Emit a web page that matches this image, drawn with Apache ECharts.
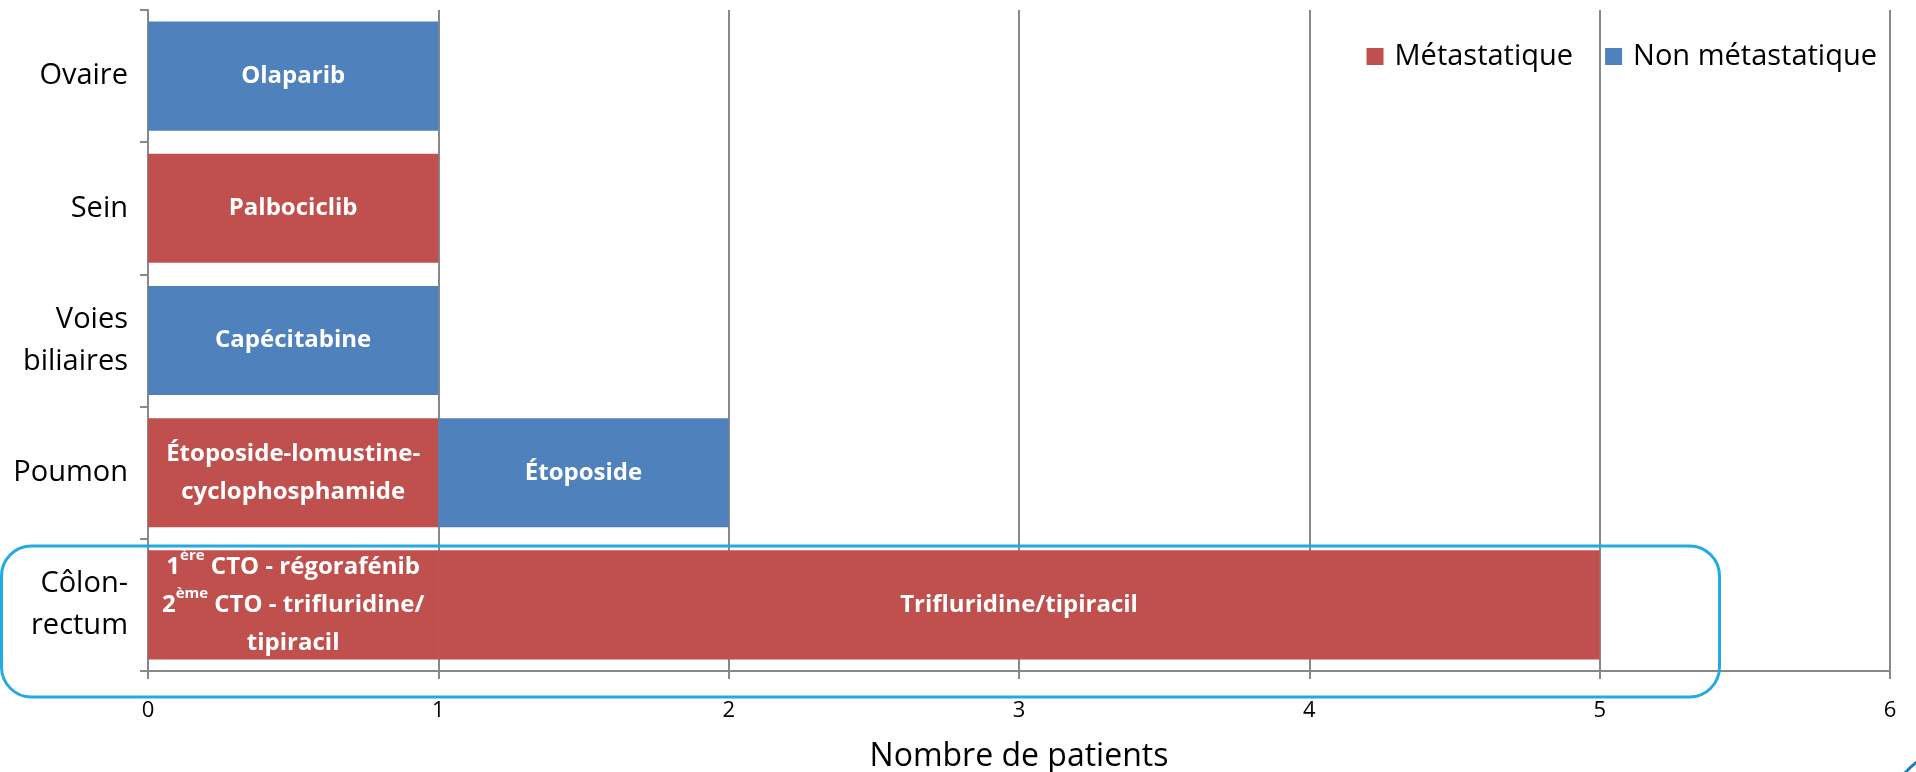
<!DOCTYPE html>
<html>
<head>
<meta charset="utf-8">
<script src="https://cdn.jsdelivr.net/npm/echarts@6/dist/echarts.min.js"></script>
<style>
html,body{margin:0;padding:0;background:#fff;}
#c{width:1916px;height:772px;}
</style>
</head>
<body>
<div id="c"></div>
<script>
// Categories (bottom to top)
const categories = ['Côlon-\nrectum', 'Poumon', 'Voies\nbiliaires', 'Sein', 'Ovaire'];
const xTicks = [0, 1, 2, 3, 4, 5, 6];

// First segment of each bar
const meta1 = [1, 1, null, 1, null];
const nonMeta1 = [null, null, 1, null, 1];
const labels1 = [
  'colon1',
  'Étoposide-lomustine-\ncyclophosphamide',
  'Capécitabine',
  'Palbociclib',
  'Olaparib'
];
// Second segment
const meta2 = [4, null, null, null, null];
const nonMeta2 = [null, 1, null, null, null];
const labels2 = ['Trifluridine/tipiracil', 'Étoposide', '', '', ''];

const RED = '#c0504d';
const BLUE = '#4f81bd';
const FONT = 'Open Sans';

function fmt(lbls) {
  return function (p) {
    const t = lbls[p.dataIndex];
    if (t === 'colon1') {
      return '{w|1}{s|ère}{w| CTO - régorafénib}\n{w|2}{s|ème}{w| CTO - trifluridine/}\n{w|tipiracil}';
    }
    return t.split('\n').map(l => '{w|' + l + '}').join('\n');
  };
}
const labelStyle = {
  show: true,
  position: 'inside',
  fontFamily: FONT,
  rich: {
    w: {color: '#fff', fontWeight: 'bold', fontSize: 24, fontFamily: FONT, lineHeight: 38},
    s: {color: '#fff', fontWeight: 'bold', fontSize: 15, fontFamily: FONT, lineHeight: 30, verticalAlign: 'top'}
  }
};
function mkSeries(name, vals, color, lbls) {
  return {
    name: name,
    type: 'bar',
    stack: 'all',
    barCategoryGap: '17.5%',
    itemStyle: {color: color},
    label: Object.assign({}, labelStyle, {formatter: fmt(lbls)}),
    data: vals.map(v => v == null ? '-' : v)
  };
}

const chart = echarts.init(document.getElementById('c'), null, {renderer: 'canvas'});
chart.setOption({
  animation: false,
  backgroundColor: '#fff',
  textStyle: {fontFamily: FONT},
  grid: {left: 148, right: 26, top: 10, bottom: 101, containLabel: false, outerBoundsMode: 'none'},
  legend: {
    data: ['Métastatique', 'Non métastatique'],
    right: 34, top: 37,
    icon: 'rect', itemWidth: 17, itemHeight: 17, itemGap: 32,
    textStyle: {fontFamily: FONT, fontSize: 29, color: '#000', padding: [0, 0, 0, 6]}
  },
  xAxis: {
    type: 'value', min: 0, max: 6, interval: 1,
    name: 'Nombre de patients', nameLocation: 'middle', nameGap: 70,
    nameTextStyle: {fontFamily: FONT, fontSize: 32, color: '#000'},
    axisLine: {show: true, lineStyle: {color: '#888', width: 2}},
    axisTick: {show: true, length: 8, lineStyle: {color: '#888', width: 2}},
    splitLine: {show: true, lineStyle: {color: '#888', width: 2}},
    axisLabel: {fontFamily: FONT, fontSize: 22, color: '#000', margin: 29,
      formatter: v => xTicks.includes(v) ? String(v) : ''}
  },
  yAxis: {
    type: 'category', data: categories,
    axisLine: {show: true, lineStyle: {color: '#888', width: 2}},
    axisTick: {show: true, length: 8, lineStyle: {color: '#888', width: 2}},
    axisLabel: {fontFamily: FONT, fontSize: 29, color: '#000', margin: 20, lineHeight: 42, padding: [10, 0, 0, 0]}
  },
  series: [
    mkSeries('Métastatique', meta1, RED, labels1),
    mkSeries('Non métastatique', nonMeta1, BLUE, labels1),
    mkSeries('Métastatique', meta2, RED, labels2),
    mkSeries('Non métastatique', nonMeta2, BLUE, labels2)
  ],
  graphic: [
    {type: 'rect', z: 100, silent: true,
     shape: {x: 1.5, y: 546, width: 1718, height: 151, r: 30},
     style: {fill: null, stroke: '#22aae2', lineWidth: 3}},
    {type: 'arc', z: 100, silent: true,
     shape: {cx: 1965, cy: 826, r: 80, startAngle: 3.7, endAngle: 4.35, clockwise: true},
     style: {fill: null, stroke: '#1b7fb6', lineWidth: 3}}
  ]
});
</script>
</body>
</html>
